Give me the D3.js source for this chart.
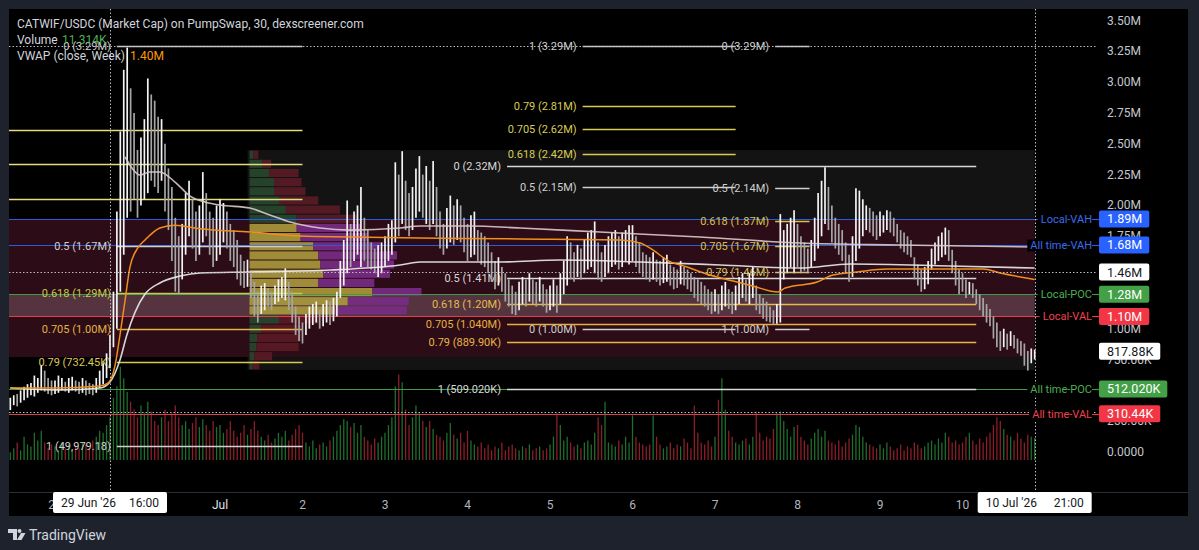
<!doctype html>
<html lang="en">
<head>
<meta charset="utf-8">
<title>CATWIF/USDC (Market Cap) - PumpSwap 30</title>
<style>
html, body {
	margin: 0;
	padding: 0;
	background: #1e222d;
}
body {
	width: 1199px;
	height: 550px;
	overflow: hidden;
	font-family: Roboto, 'Noto Sans', sans-serif;
}
svg { display: block; }
</style>
</head>
<body>
<div id="chart"></div>
<script src="https://cdnjs.cloudflare.com/ajax/libs/d3/7.8.5/d3.min.js"></script>
<script>
'use strict';

/* DATA */

// hourly bars, first one Jun 28 11:00 (= Jul 1 00:00 - 61h), last Jul 10 21:00
var BAR0_H = -61;
// [low, high] market cap in M
var priceBars = [
	// Jun 28
	[0.34,0.44],[0.38,0.46],[0.37,0.47],[0.40,0.50],[0.42,0.53],[0.44,0.55],[0.46,0.56],[0.45,0.62],[0.48,0.60],[0.50,0.70],[0.49,0.66],[0.47,0.60],[0.46,0.58],
	// Jun 29
	[0.47,0.58],[0.48,0.62],[0.50,0.60],[0.49,0.57],[0.48,0.60],[0.50,0.61],[0.49,0.58],[0.47,0.57],[0.48,0.60],[0.46,0.58],[0.47,0.56],[0.46,0.55],
	[0.48,0.60],[0.52,0.66],[0.55,0.72],[0.60,0.80],[0.68,0.95],[0.85,1.30],[1.00,1.95],[1.30,2.60],[1.60,3.10],[1.90,3.28],[1.95,2.95],[2.05,2.75],
	// Jun 30
	[1.90,2.45],[2.00,2.55],[2.05,2.70],[2.10,3.03],[2.20,2.90],[2.15,2.85],[2.10,2.72],[2.20,2.70],[1.95,2.50],[1.80,2.30],[1.55,2.15],[1.30,1.90],
	[1.28,1.75],[1.40,1.85],[1.60,2.10],[1.75,2.20],[1.65,2.05],[1.55,1.95],[1.60,2.00],[1.70,2.27],[1.75,2.10],[1.60,1.95],[1.50,1.90],[1.55,2.00],
	// Jul 1
	[1.60,2.05],[1.70,2.02],[1.65,1.95],[1.55,1.85],[1.50,1.80],[1.40,1.72],[1.35,1.60],[1.33,1.55],[1.34,1.56],[1.25,1.45],[1.10,1.38],[1.05,1.30],
	[1.12,1.35],[1.15,1.37],[1.18,1.33],[1.15,1.30],[1.20,1.35],[1.22,1.40],[1.25,1.42],[1.23,1.49],[1.15,1.38],[1.05,1.30],[0.95,1.18],[0.90,1.10],
	// Jul 2
	[0.88,1.05],[0.95,1.12],[1.00,1.18],[1.03,1.20],[1.05,1.22],[1.00,1.15],[1.02,1.20],[1.05,1.23],[1.03,1.22],[1.06,1.25],[1.10,1.30],[1.25,1.55],
	[1.35,1.72],[1.45,2.04],[1.50,1.85],[1.55,1.95],[1.60,2.00],[1.50,2.15],[1.55,1.90],[1.50,1.80],[1.48,1.70],[1.45,1.65],[1.42,1.68],[1.45,1.70],
	// Jul 3
	[1.50,1.75],[1.55,1.85],[1.60,1.88],[1.70,2.35],[1.75,2.25],[1.85,2.44],[1.80,2.20],[1.75,2.10],[1.80,2.15],[1.90,2.30],[1.95,2.40],[1.90,2.25],
	[1.85,2.32],[1.80,2.20],[1.85,2.36],[1.75,2.15],[1.65,1.95],[1.60,1.85],[1.65,1.98],[1.70,2.08],[1.68,2.00],[1.72,2.05],[1.70,2.00],[1.62,1.90],
	// Jul 4
	[1.55,1.85],[1.58,1.92],[1.60,1.95],[1.55,1.80],[1.52,1.78],[1.50,1.75],[1.45,1.70],[1.38,1.62],[1.32,1.55],[1.35,1.58],[1.30,1.50],[1.22,1.45],
	[1.18,1.40],[1.12,1.35],[1.11,1.30],[1.15,1.38],[1.20,1.42],[1.18,1.40],[1.22,1.45],[1.20,1.40],[1.18,1.38],[1.22,1.42],[1.18,1.36],[1.13,1.32],
	// Jul 5
	[1.15,1.35],[1.18,1.40],[1.13,1.35],[1.20,1.45],[1.28,1.55],[1.35,1.75],[1.40,1.70],[1.38,1.62],[1.42,1.68],[1.40,1.65],[1.45,1.72],[1.48,1.78],
	[1.50,1.80],[1.45,1.87],[1.40,1.70],[1.38,1.62],[1.42,1.68],[1.45,1.75],[1.50,1.78],[1.52,1.80],[1.48,1.75],[1.50,1.78],[1.55,1.80],[1.52,1.84],
	// Jul 6
	[1.55,1.84],[1.50,1.75],[1.45,1.70],[1.42,1.62],[1.40,1.60],[1.38,1.58],[1.40,1.62],[1.38,1.56],[1.35,1.55],[1.37,1.58],[1.38,1.60],[1.35,1.52],
	[1.32,1.50],[1.33,1.48],[1.36,1.55],[1.35,1.50],[1.32,1.48],[1.30,1.45],[1.25,1.42],[1.22,1.40],[1.20,1.38],[1.18,1.35],[1.15,1.32],[1.12,1.30],
	// Jul 7
	[1.14,1.32],[1.12,1.28],[1.15,1.35],[1.18,1.38],[1.16,1.32],[1.12,1.30],[1.15,1.35],[1.20,1.42],[1.25,1.45],[1.22,1.40],[1.20,1.45],[1.25,1.50],
	[1.15,1.35],[1.12,1.28],[1.08,1.25],[1.06,1.22],[1.05,1.18],[1.03,1.15],[1.04,1.20],[1.05,1.93],[1.40,1.80],[1.45,1.85],[1.50,1.90],[1.45,1.96],
	// Jul 8
	[1.50,1.85],[1.45,1.75],[1.47,1.70],[1.45,1.65],[1.50,1.72],[1.55,1.90],[1.65,2.10],[1.75,2.20],[1.85,2.31],[1.80,2.15],[1.70,2.00],[1.65,1.90],
	[1.60,1.85],[1.55,1.80],[1.45,1.70],[1.38,1.60],[1.42,1.75],[1.55,2.14],[1.65,2.12],[1.75,2.05],[1.80,2.00],[1.78,1.98],[1.75,1.95],[1.72,1.92],
	// Jul 9
	[1.75,1.95],[1.78,1.92],[1.80,1.96],[1.78,1.95],[1.75,1.90],[1.70,1.85],[1.65,1.80],[1.62,1.78],[1.60,1.75],[1.58,1.72],[1.40,1.58],[1.35,1.52],
	[1.30,1.48],[1.32,1.50],[1.36,1.55],[1.48,1.65],[1.52,1.70],[1.55,1.75],[1.58,1.78],[1.60,1.82],[1.55,1.80],[1.45,1.64],[1.35,1.55],[1.28,1.48],
	// Jul 10
	[1.30,1.45],[1.25,1.40],[1.28,1.38],[1.25,1.37],[1.20,1.32],[1.15,1.28],[1.10,1.25],[1.05,1.20],[1.02,1.16],[0.92,1.10],[0.85,1.05],[0.82,0.98],
	[0.85,1.00],[0.83,0.96],[0.86,0.98],[0.84,0.95],[0.80,0.92],[0.78,0.90],[0.70,0.88],[0.66,0.82],[0.72,0.84],[0.75,0.83]
];

// hourly volume, K
var volumes = [
	4,6,9,5,12,8,7,14,10,15,9,6,8,
	7,5,9,6,8,5,7,6,9,8,6,10, 12,15,14,18,22,32,38,48,42,35,30,26,
	22,28,24,30,25,20,18,22,26,20,24,28, 22,18,20,16,19,22,17,21,18,15,20,17,
	18,14,16,20,15,12,14,18,13,16,20,15, 12,10,13,9,11,14,12,15,10,13,16,18,
	14,9,7,10,6,8,9,7,10,12,15,18, 21,20,17,19,14,18,12,10,8,11,9,12,
	14,18,22,38,44,40,26,18,22,28,24,20, 17,20,16,13,12,10,14,19,13,11,14,9,
	15,10,8,7,9,6,8,5,7,6,9,5, 7,8,6,5,7,6,8,5,6,7,5,6,
	8,12,24,18,10,12,9,7,8,6,9,10, 8,14,22,18,30,9,8,7,10,8,12,9,
	23,12,9,8,7,8,23,12,8,6,7,9, 6,8,7,11,9,6,28,14,9,8,10,7,
	12,31,42,26,15,12,9,8,10,11,8,12, 25,14,10,12,11,16,24,25,20,16,12,17,
	18,12,10,8,11,14,16,12,15,10,9,8, 10,7,9,11,13,18,17,12,9,8,7,6,
	8,6,9,7,5,6,8,5,7,6,9,8, 6,7,9,10,8,11,9,14,12,9,10,8,
	9,12,14,10,8,11,9,12,14,18,22,20, 16,13,12,10,14,11,9,13,12,11.314
];

// [hours from Jul 1 00:00, value M]
var vwapPts = [
	[-61,0.519],[-48,0.519],[-35,0.535],[-32.5,0.56],[-30.5,0.706],[-29.1,0.949],[-27.6,1.233],[-26.2,1.50],
	[-23.9,1.655],[-21.8,1.72],[-17.5,1.817],[-13.1,1.84],[-5.8,1.81],[8.7,1.784],[23.3,1.752],[37.8,1.744],
	[58.2,1.736],[87.3,1.728],[116.4,1.72],[122.2,1.695],[126,1.638],[130,1.557],[135.9,1.50],[142.5,1.435],
	[150.4,1.379],[155,1.346],[162.3,1.298],[164.4,1.33],[173.7,1.379],[178.3,1.435],[185.3,1.46],[194,1.484],
	[222,1.484],[226.9,1.452],[237,1.40]
];
var maUpperPts = [
	[-27.6,2.393],[-25.6,2.303],[-23.3,2.247],[-20.4,2.271],[-17.5,2.271],[-13.1,2.19],[-8.7,2.076],[-4.4,2.028],
	[0,2.003],[8.7,1.979],[14.5,1.922],[20.4,1.865],[29.1,1.817],[37.8,1.80],[52.4,1.817],[58.2,1.833],
	[72.7,1.833],[87.3,1.817],[110.5,1.784],[139.6,1.744],[168.7,1.695],[197.8,1.679],[237,1.663]
];
var maLowerPts = [
	[-61,0.519],[-46.5,0.503],[-34.9,0.519],[-32,0.568],[-29.1,0.746],[-27.1,0.949],[-24.7,1.135],[-21.8,1.281],
	[-17.5,1.371],[-11.6,1.427],[-5.8,1.452],[8.7,1.46],[32,1.476],[52.4,1.517],[58.2,1.541],[81.5,1.541],
	[98.9,1.557],[122.2,1.541],[145.5,1.517],[168.7,1.492],[183.3,1.525],[212.4,1.509],[237,1.492]
];

// value area / POC levels (right side)
var levelNames = ['Local-VAH', 'All time-VAH', 'Local-POC', 'Local-VAL', 'All time-POC', 'All time-VAL'];
var levelValues = [1.89, 1.68, 1.28, 1.10, 0.51202, 0.31044];
var levelTexts = ['1.89M', '1.68M', '1.28M', '1.10M', '512.020K', '310.44K'];
var levelKinds = ['vah', 'vah', 'poc', 'val', 'poc', 'val'];

// fib retracements: labels, values (M), span in hours from Jul 1
var fibALabels = ['0 (3.29M)', '0.5 (1.67M)', '0.618 (1.29M)', '0.705 (1.00M)', '0.79 (732.45K)', '1 (49,979.18)'];
var fibAValues = [3.29, 1.67, 1.29, 1.00, 0.73245, 0.04997918];
var fibASpan = [-30, 24];
var fibAExtra = [2.61, 2.34, 2.05];
var fibBLabels = ['1 (3.29M)', '0.79 (2.81M)', '0.705 (2.62M)', '0.618 (2.42M)', '0.5 (2.15M)', '0 (1.00M)'];
var fibBValues = [3.29, 2.81, 2.62, 2.42, 2.15, 1.00];
var fibBSpan = [105.5, 150];
var fibCLabels = ['0 (3.29M)', '0.5 (2.14M)', '0.618 (1.87M)', '0.705 (1.67M)', '0.79 (1.46M)', '1 (1.00M)'];
var fibCValues = [3.29, 2.14, 1.87, 1.67, 1.46, 1.00];
var fibCSpan = [161.5, 171.5];
var fibDLabels = ['0 (2.32M)', '0.5 (1.41M)', '0.618 (1.20M)', '0.705 (1.040M)', '0.79 (889.90K)', '1 (509.020K)'];
var fibDValues = [2.32, 1.41, 1.20, 1.04, 0.8899, 0.50902];
var fibDSpan = [83.5, 220];

// visible range volume profile, rows from top (2.449M) down, step 0.0743M
var vpTop = 2.449;
var vpStep = 0.0743;
var vpStartH = 8;
var vpUp   = [4, 13, 20, 25, 25, 30, 37, 48, 48, 52, 65, 70, 72, 75, 70, 125, 100, 87, 30, 12, 8, 7, 5, 3];
var vpDown = [5, 9, 30, 28, 32, 40, 55, 62, 65, 68, 68, 80, 75, 68, 57, 50, 62, 73, 40, 41, 44, 43, 18, 7];

var priceTicks = [0, 0.25, 0.5, 0.75, 1, 1.25, 1.5, 1.75, 2, 2.25, 2.5, 2.75, 3, 3.25, 3.5];
var dayTickH = [-48, -24, 0, 24, 48, 72, 96, 120, 144, 168, 192, 216];
var dayLabels = ['29', '30', 'Jul', '2', '3', '4', '5', '6', '7', '8', '9', '10'];

var crossH = [-32, 237];
var crossTexts = [['29 Jun \'26', '16:00'], ['10 Jul \'26', '21:00']];
var crossPrice = 1.46;
var lastPrice = 0.81788;

/* UTILS */

var JUL1 = new Date(2026, 6, 1);
var at = function (h) {
	return new Date(JUL1.getTime() + h * 36e5);
};
var fmt = function (v) {
	if (v === 0) return '0.0000';
	if (v >= 1) return v.toFixed(2) + 'M';
	return (v * 1000).toFixed(2) + 'K';
};
var isFibTint = function (label) {
	return /^0\.(618|705|79) /.test(label);
};

/* RENDER */

var W = 1199, H = 550;
var LEFT = 9, RIGHT = 1097, TOP = 9, AXIS_Y = 492;

var x = d3.scaleTime().domain([JUL1, at(240)]).range([220, 1045]);
var y = d3.scaleLinear().domain([0, 3.5]).range([452, 20.5]);
var yv = d3.scaleLinear().domain([0, 50]).range([460, 362.8]);
var vpw = d3.scaleLinear().domain([0, 175]).range([0, 172]);

var svg = d3.select('#chart').append('svg')
	.attr('width', W).attr('height', H)
	.attr('font-family', "Roboto, 'Noto Sans', sans-serif");

svg.append('rect').attr('width', W).attr('height', H).attr('fill', '#1e222d');
svg.append('rect').attr('x', 9).attr('y', 9).attr('width', 1179).attr('height', 507).attr('fill', '#000');

svg.append('defs').append('clipPath').attr('id', 'plot-clip')
	.append('rect').attr('x', LEFT).attr('y', TOP).attr('width', RIGHT - LEFT).attr('height', AXIS_Y - TOP);

var plot = svg.append('g').attr('clip-path', 'url(#plot-clip)');

var endX = x(at(237));
var vpBottom = vpTop - vpUp.length * vpStep;

// range box of the profile
plot.append('rect')
	.attr('x', x(at(vpStartH))).attr('y', y(vpTop))
	.attr('width', endX - x(at(vpStartH))).attr('height', y(vpBottom) - y(vpTop))
	.attr('fill', '#131313');

// value area shading
plot.append('rect')
	.attr('x', LEFT).attr('y', y(levelValues[0]))
	.attr('width', endX - LEFT).attr('height', y(0.77) - y(levelValues[0]))
	.attr('fill', '#2c0c16');
plot.append('rect')
	.attr('x', LEFT).attr('y', y(levelValues[2]))
	.attr('width', endX - LEFT).attr('height', y(levelValues[3]) - y(levelValues[2]))
	.attr('fill', '#553440');

// volume profile rows
var vpX0 = x(at(vpStartH)) + 2;
vpUp.forEach(function (u, i) {
	var hi = vpTop - i * vpStep;
	var lo = hi - vpStep;
	var mid = (hi + lo) / 2;
	var inVA = mid < levelValues[0] && mid > levelValues[3];
	var ry = y(hi) + 0.5;
	var rh = y(lo) - y(hi) - 1;
	plot.append('rect')
		.attr('x', vpX0).attr('y', ry).attr('width', vpw(u)).attr('height', rh)
		.attr('fill', inVA ? '#a8983c' : '#27472c').attr('opacity', 0.92);
	plot.append('rect')
		.attr('x', vpX0 + vpw(u)).attr('y', ry).attr('width', vpw(vpDown[i])).attr('height', rh)
		.attr('fill', inVA ? '#7a2d84' : '#5a1b26').attr('opacity', 0.92);
});

// up / down flags from consecutive bar midpoints
var barUp = priceBars.map(function (b, i) {
	if (i === 0) return true;
	var p = priceBars[i - 1];
	return (b[0] + b[1]) >= (p[0] + p[1]);
});

// volume
plot.append('g').selectAll('line').data(volumes).enter()
	.append('line')
	.attr('x1', function (d, i) { return x(at(BAR0_H + i)); })
	.attr('x2', function (d, i) { return x(at(BAR0_H + i)); })
	.attr('y1', yv(0))
	.attr('y2', function (d) { return yv(d); })
	.attr('stroke', function (d, i) { return barUp[i] ? '#1f6e2c' : '#8c1e2a'; })
	.attr('stroke-width', 1.3);

// horizontal levels (lines)
var levelStroke = { vah: '#2d5be0', poc: '#3f9a45', val: '#e0404e' };
var levelText = { vah: '#3a6cf0', poc: '#4caf50', val: '#f0414f' };
var levelBox = { vah: '#2962ff', poc: '#43a047', val: '#f23645' };
levelValues.forEach(function (v, i) {
	plot.append('line')
		.attr('x1', LEFT).attr('x2', RIGHT)
		.attr('y1', Math.round(y(v)) + 0.5).attr('y2', Math.round(y(v)) + 0.5)
		.attr('stroke', levelStroke[levelKinds[i]]).attr('stroke-width', 1.2);
});

// dotted guide lines
var dotted = function (x1, y1, x2, y2) {
	svg.append('line')
		.attr('x1', x1).attr('y1', y1).attr('x2', x2).attr('y2', y2)
		.attr('stroke', '#b8bbc4').attr('stroke-width', 1).attr('stroke-dasharray', '1.5,2');
};

// fib drawing
var drawFib = function (labels, values, span, tint, white) {
	var x1 = x(at(span[0]));
	var x2 = x(at(span[1]));
	values.forEach(function (v, i) {
		var yy = Math.round(y(v)) + 0.5;
		var c = isFibTint(labels[i]) ? tint[labels[i].split(' ')[0]] : white;
		plot.append('line')
			.attr('x1', x1).attr('x2', x2).attr('y1', yy).attr('y2', yy)
			.attr('stroke', c).attr('stroke-width', 1.3);
		plot.append('text')
			.attr('x', x1 - 6).attr('y', yy)
			.attr('text-anchor', 'end').attr('dominant-baseline', 'central')
			.attr('font-size', 11).attr('fill', c)
			.text(labels[i]);
	});
};

fibAExtra.forEach(function (v) {
	plot.append('line')
		.attr('x1', x(at(-72))).attr('x2', x(at(fibASpan[1])))
		.attr('y1', Math.round(y(v)) + 0.5).attr('y2', Math.round(y(v)) + 0.5)
		.attr('stroke', '#e4dc80').attr('stroke-width', 1.3);
});

dotted(LEFT, Math.round(y(3.29)) + 0.5, RIGHT, Math.round(y(3.29)) + 0.5);
dotted(LEFT, Math.round(y(crossPrice)) + 0.5, RIGHT, Math.round(y(crossPrice)) + 0.5);
dotted(LEFT, Math.round(y(levelValues[5])) - 1.5, RIGHT, Math.round(y(levelValues[5])) - 1.5);

drawFib(fibALabels, fibAValues, fibASpan, { '0.618': '#c4c850', '0.705': '#e2b445', '0.79': '#dcc852' }, '#cfcfcf');
drawFib(fibBLabels, fibBValues, fibBSpan, { '0.618': '#d8cc52', '0.705': '#d8cc52', '0.79': '#d8cc52' }, '#cfcfcf');
drawFib(fibCLabels, fibCValues, fibCSpan, { '0.618': '#d4c24c', '0.705': '#d4c24c', '0.79': '#d4c24c' }, '#cfcfcf');
drawFib(fibDLabels, fibDValues, fibDSpan, { '0.618': '#e4bc48', '0.705': '#e8ae42', '0.79': '#e8b444' }, '#d8d8d8');

// candles (hourly high-low)
plot.append('g').selectAll('line').data(priceBars).enter()
	.append('line')
	.attr('x1', function (d, i) { return x(at(BAR0_H + i)); })
	.attr('x2', function (d, i) { return x(at(BAR0_H + i)); })
	.attr('y1', function (d) { return y(d[1]); })
	.attr('y2', function (d) { return y(d[0]); })
	.attr('stroke', function (d, i) { return barUp[i] ? '#f4f4f4' : '#a6a6a6'; })
	.attr('stroke-width', 1.7);

// moving lines
var lineGen = d3.line()
	.x(function (d) { return x(at(d[0])); })
	.y(function (d) { return y(d[1]); })
	.curve(d3.curveMonotoneX);
plot.append('path').attr('d', lineGen(maUpperPts)).attr('fill', 'none')
	.attr('stroke', '#dccaca').attr('stroke-width', 1.6).attr('opacity', 0.9);
plot.append('path').attr('d', lineGen(maLowerPts)).attr('fill', 'none')
	.attr('stroke', '#ececec').attr('stroke-width', 1.6).attr('opacity', 0.9);
plot.append('path').attr('d', lineGen(vwapPts)).attr('fill', 'none')
	.attr('stroke', '#f0901c').attr('stroke-width', 1.5);

// vertical crosshair lines
crossH.forEach(function (h) {
	var cx = Math.round(x(at(h))) + 0.5;
	dotted(cx, TOP, cx, AXIS_Y);
});

/* PRICE AXIS */

// ticks that sit fully under a label box are not drawn
var boxValues = levelValues.concat([crossPrice, lastPrice]);
var visibleTicks = priceTicks.filter(function (t) {
	return !boxValues.some(function (b) { return Math.abs(y(t) - y(b)) < 5; });
});

svg.append('g').selectAll('text').data(visibleTicks).enter()
	.append('text')
	.attr('x', 1107).attr('y', function (d) { return y(d); })
	.attr('dominant-baseline', 'central')
	.attr('font-size', 12).attr('fill', '#c3c6ce')
	.text(fmt);

var priceBox = function (v, txt, fill, color) {
	var yy = y(v);
	var g = svg.append('g');
	var r = g.append('rect').attr('x', 1099).attr('y', yy - 8.5).attr('height', 17).attr('rx', 2).attr('fill', fill);
	var t = g.append('text').attr('x', 1107).attr('y', yy)
		.attr('dominant-baseline', 'central').attr('font-size', 12.5).attr('fill', color).text(txt);
	r.attr('width', t.node().getComputedTextLength() + 15);
};

var levelLabels = svg.append('g');
levelValues.forEach(function (v, i) {
	var k = levelKinds[i];
	var yy = Math.round(y(v)) + 0.5;
	var bg = levelLabels.append('rect').attr('y', yy - 6).attr('height', 12).attr('fill', '#000');
	var t = levelLabels.append('text')
		.attr('x', 1092).attr('y', yy)
		.attr('text-anchor', 'end').attr('dominant-baseline', 'central')
		.attr('font-size', 11).attr('fill', levelText[k])
		.text(levelNames[i]);
	var tw = t.node().getComputedTextLength();
	bg.attr('x', 1092 - tw - 3).attr('width', tw + 3);
	levelLabels.append('line').attr('x1', 1094).attr('x2', 1099).attr('y1', yy).attr('y2', yy)
		.attr('stroke', levelStroke[k]).attr('stroke-width', 1.2);
	priceBox(v, levelTexts[i], levelBox[k], '#fff');
});
priceBox(crossPrice, fmt(crossPrice), '#ffffff', '#131722');
priceBox(lastPrice, fmt(lastPrice), '#ffffff', '#131722');

/* TIME AXIS */

svg.append('line').attr('x1', 9).attr('x2', 1188).attr('y1', AXIS_Y + 0.5).attr('y2', AXIS_Y + 0.5)
	.attr('stroke', '#2a2e39');

// day labels that sit fully under a crosshair time box are not drawn
var dayIdx = dayTickH.map(function (d, i) { return i; }).filter(function (i) {
	var tx = x(at(dayTickH[i]));
	return !crossH.some(function (h) { return Math.abs(tx - x(at(h))) < 45; });
});

svg.append('g').selectAll('text').data(dayIdx).enter()
	.append('text')
	.attr('x', function (i) { return x(at(dayTickH[i])); })
	.attr('y', 505)
	.attr('text-anchor', 'middle').attr('dominant-baseline', 'central')
	.attr('font-size', 12)
	.attr('fill', function (i) { return dayLabels[i] === 'Jul' ? '#e0e3eb' : '#b2b5be'; })
	.text(function (i) { return dayLabels[i]; });

crossH.forEach(function (h, i) {
	var cx = x(at(h));
	svg.append('rect').attr('x', cx - 57).attr('y', 492).attr('width', 114).attr('height', 21)
		.attr('rx', 2).attr('fill', '#ffffff');
	svg.append('text').attr('x', cx - 49).attr('y', 503).attr('dominant-baseline', 'central')
		.attr('font-size', 12).attr('fill', '#131722').text(crossTexts[i][0]);
	svg.append('text').attr('x', cx + 49).attr('y', 503).attr('text-anchor', 'end')
		.attr('dominant-baseline', 'central')
		.attr('font-size', 12).attr('fill', '#131722').text(crossTexts[i][1]);
});

/* LEGEND */

var legend = svg.append('g').attr('font-size', 12);
legend.append('text').attr('x', 17).attr('y', 28).attr('fill', '#d1d4dc')
	.text('CATWIF/USDC (Market Cap) on PumpSwap, 30, dexscreener.com');
legend.append('text').attr('x', 17).attr('y', 44).attr('fill', '#d1d4dc').text('Volume');
legend.append('text').attr('x', 62).attr('y', 44).attr('fill', '#4caf50').text('11.314K');
legend.append('text').attr('x', 17).attr('y', 60).attr('fill', '#d1d4dc').text('VWAP (close, Week)');
legend.append('text').attr('x', 130).attr('y', 60).attr('fill', '#ff9800').text('1.40M');

/* BRAND */

var brand = svg.append('g').attr('fill', '#d1d4dc');
brand.append('path').attr('d', 'M8,529 h9 v11 h-4 v-7 h-5 z');
brand.append('circle').attr('cx', 19.5).attr('cy', 531).attr('r', 2);
brand.append('path').attr('d', 'M21,533 h4.5 l-4,7 h-4.5 z');
brand.append('text').attr('x', 29).attr('y', 540).attr('font-size', 14).text('TradingView');
</script>
</body>
</html>
